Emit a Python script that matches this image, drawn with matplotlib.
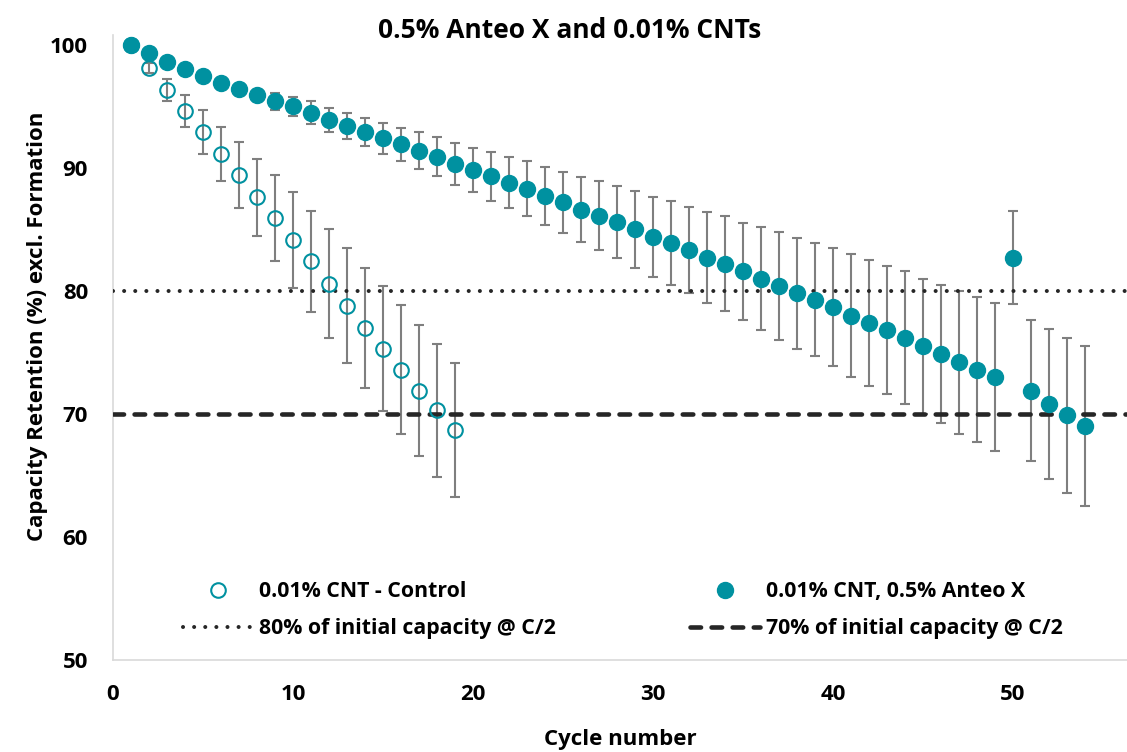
import matplotlib
matplotlib.use('Agg')
import matplotlib.pyplot as plt

plt.rcParams['font.family'] = ['Open Sans', 'DejaVu Sans']
plt.rcParams['font.weight'] = 'bold'

# cycle numbers
cycles_control = list(range(1, 20))
cycles_anteo = list(range(1, 55))

# capacity retention (%)
control = [100, 98.1, 96.3, 94.6, 92.9, 91.1, 89.4, 87.6, 85.9, 84.1,
           82.4, 80.6, 78.8, 77.0, 75.3, 73.6, 71.9, 70.3, 68.7]
control_err = [0, 0.4, 0.9, 1.3, 1.8, 2.2, 2.7, 3.15, 3.5, 3.9,
               4.1, 4.4, 4.65, 4.9, 5.1, 5.25, 5.35, 5.4, 5.45]

anteo = [100, 99.3, 98.6, 98.05, 97.5, 96.9, 96.4, 95.9, 95.4, 95.0,
         94.5, 93.9, 93.4, 92.9, 92.4, 91.9, 91.4, 90.9, 90.3, 89.8,
         89.3, 88.8, 88.3, 87.7, 87.2, 86.6, 86.1, 85.6, 85.0, 84.4,
         83.9, 83.3, 82.7, 82.2, 81.6, 81.0, 80.4, 79.8, 79.3, 78.7,
         78.0, 77.4, 76.8, 76.2, 75.5, 74.9, 74.2, 73.6, 73.0, 82.7,
         71.9, 70.8, 69.9, 69.0]
anteo_err = [0, 0.2, 0.2, 0.2, 0.2, 0.25, 0.3, 0.45, 0.7, 0.8,
             0.9, 0.95, 1.05, 1.15, 1.25, 1.35, 1.5, 1.6, 1.7, 1.8,
             2.0, 2.1, 2.25, 2.35, 2.5, 2.65, 2.8, 2.95, 3.1, 3.25,
             3.4, 3.5, 3.7, 3.85, 3.95, 4.2, 4.35, 4.5, 4.6, 4.8,
             5.0, 5.1, 5.2, 5.4, 5.5, 5.6, 5.8, 5.9, 6.0, 3.8,
             5.7, 6.1, 6.3, 6.5]

limit_80 = 80
limit_70 = 70

teal = '#0091A0'
grey = '#7F7F7F'
dark = '#262626'

fig = plt.figure(figsize=(11.27, 7.52), dpi=100)
ax = fig.add_axes([113 / 1127, 92 / 752, 1 - 113 / 1127, (660 - 35) / 752])

# error bars first so the markers sit on top
ax.errorbar(cycles_anteo, anteo, yerr=anteo_err, fmt='none', ecolor=grey,
            elinewidth=1.5, capsize=3.8, capthick=1.5, zorder=2)
ax.errorbar(cycles_control, control, yerr=control_err, fmt='none', ecolor=grey,
            elinewidth=1.5, capsize=3.8, capthick=1.5, zorder=2)

l80 = ax.axhline(limit_80, color=dark, lw=2.9, linestyle=(0, (0.01, 2.75)),
                 dash_capstyle='round', zorder=3,
                 label='80% of initial capacity @ C/2')
l70 = ax.axhline(limit_70, color=dark, lw=3.3, linestyle=(0, (2.3, 2.3)),
                 dash_capstyle='round', zorder=3,
                 label='70% of initial capacity @ C/2')

p_anteo, = ax.plot(cycles_anteo, anteo, 'o', ms=11.5, color=teal, mec=teal,
                   zorder=4, label='0.01% CNT, 0.5% Anteo X')
p_ctrl, = ax.plot(cycles_control, control, 'o', ms=10.5, mfc='none', mec=teal,
                  mew=1.5, zorder=5, label='0.01% CNT - Control')

ax.set_xlim(0, 56.33)
ax.set_ylim(50, 100.8)
ax.set_xticks([0, 10, 20, 30, 40, 50])
ax.set_yticks([50, 60, 70, 80, 90, 100])
ax.tick_params(length=0, labelsize=16)
ax.tick_params(axis='x', pad=17)
ax.tick_params(axis='y', pad=18)
for s in ['top', 'right']:
    ax.spines[s].set_visible(False)
for s in ['left', 'bottom']:
    ax.spines[s].set_color('#D9D9D9')
    ax.spines[s].set_linewidth(1.2)

fig.text(570 / 1127, 1 - 30 / 752, '0.5% Anteo X and 0.01% CNTs',
         ha='center', va='center', fontsize=19, fontweight='bold')
fig.text(620 / 1127, 1 - 740 / 752, 'Cycle number',
         ha='center', va='center', fontsize=16, fontweight='bold')
fig.text(38 / 1127, 1 - 326 / 752, 'Capacity Retention (%) excl. Formation',
         ha='center', va='center', rotation=90, fontsize=16, fontweight='bold')

fig.legend(handles=[p_ctrl, l80, p_anteo, l70], ncol=2, frameon=False,
           loc='center left', bbox_to_anchor=(183 / 1127, 1 - 610 / 752),
           borderpad=0, borderaxespad=0, fontsize=15.3, handlelength=3.3,
           handletextpad=0.28, columnspacing=6.3, labelspacing=0.75)

fig.savefig('out.png', dpi=100)
